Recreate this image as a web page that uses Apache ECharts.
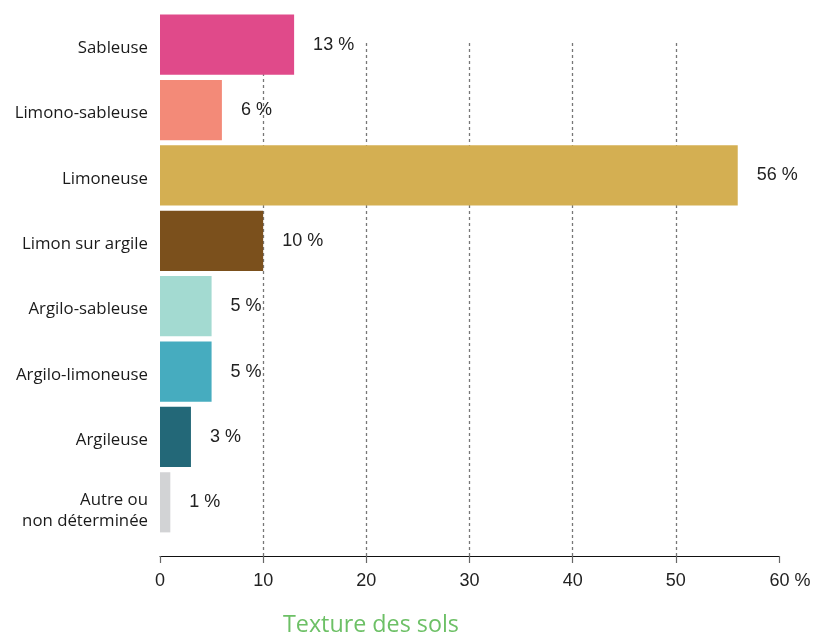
<!DOCTYPE html>
<html>
<head>
<meta charset="utf-8">
<script src="https://cdn.jsdelivr.net/npm/echarts@6/dist/echarts.min.js"></script>
<style>
  html, body { margin: 0; padding: 0; background: #ffffff; }
  #chart { width: 815px; height: 636px; }
</style>
</head>
<body>
<div id="chart"></div>
<script>
// Soil texture shares (%)
const categories = [
  'Sableuse',
  'Limono-sableuse',
  'Limoneuse',
  'Limon sur argile',
  'Argilo-sableuse',
  'Argilo-limoneuse',
  'Argileuse',
  'Autre ou\nnon déterminée'
];
const shares = [13, 6, 56, 10, 5, 5, 3, 1];
const barColors = ['#E04A8A', '#F38A78', '#D4AF52', '#7B501C', '#A3DAD1', '#46ACBF', '#236878', '#D2D3D5'];
const axisTicks = [0, 10, 20, 30, 40, 50, 60];
const axisTitle = 'Texture des sols';

const numFont = '"Liberation Sans", Arial, sans-serif';
const textFont = '"Open Sans", "Noto Sans", sans-serif';

const chart = echarts.init(document.getElementById('chart'), null, { renderer: 'canvas' });

const catText = { fontFamily: textFont, fontSize: 16.8, color: '#1a1a1a' };

// category names sit slightly below their bar's centre; the two-line one more so
function categoryLabel(name) {
  const lines = name.split('\n');
  if (lines.length === 1) return '{s|' + name + '}';
  return '{f|' + lines[0] + '}\n{t|' + lines.slice(1).join('}\n{t|') + '}';
}

chart.setOption({
  animation: false,
  backgroundColor: '#ffffff',
  grid: [
    { left: 160, right: 36, top: 12, height: 523 },   // bars
    { left: 160, right: 36, top: 43, bottom: 80 }     // scale + dashed guides
  ],
  xAxis: [
    { gridIndex: 0, type: 'value', min: axisTicks[0], max: axisTicks[axisTicks.length - 1], show: false },
    {
      gridIndex: 1, type: 'value',
      min: axisTicks[0], max: axisTicks[axisTicks.length - 1], interval: 10,
      axisLine: { show: true, lineStyle: { color: '#111', width: 1 } },
      axisTick: { show: true, length: 7, lineStyle: { color: '#666', width: 1.2 } },
      axisLabel: {
        margin: 16,
        fontFamily: numFont, fontSize: 18, color: '#222',
        formatter: v => v === 60 ? '{p|60 %}' : String(v),
        rich: { p: { padding: [0, 0, 0, 22], fontFamily: numFont, fontSize: 18, color: '#222' } }
      },
      splitLine: {
        show: true, showMinLine: false, showMaxLine: false,
        lineStyle: { color: '#777', type: [3, 3], width: 1.3 }
      }
    }
  ],
  yAxis: [
    {
      gridIndex: 0, type: 'category', data: categories, inverse: true,
      axisLine: { show: false }, axisTick: { show: false },
      axisLabel: {
        margin: 12, align: 'right',
        fontFamily: textFont, fontSize: 16.8, color: '#1a1a1a',
        formatter: categoryLabel,
        rich: {
          s: Object.assign({ lineHeight: 24, verticalAlign: 'bottom' }, catText),
          f: Object.assign({ lineHeight: 38, verticalAlign: 'bottom' }, catText),
          t: Object.assign({ lineHeight: 26 }, catText)
        }
      }
    },
    { gridIndex: 1, type: 'value', show: false }
  ],
  title: {
    text: axisTitle,
    left: 278, top: 609,
    textStyle: { fontFamily: textFont, fontSize: 23.3, fontWeight: 'normal', color: '#6DC066' }
  },
  series: [{
    type: 'bar',
    xAxisIndex: 0, yAxisIndex: 0,
    barCategoryGap: '8%',
    data: shares.map((v, i) => ({ value: v, itemStyle: { color: barColors[i] } })),
    label: {
      show: true, position: 'right', distance: 19,
      fontFamily: numFont, fontSize: 18, color: '#222',
      formatter: p => p.value + ' %'
    }
  }]
});
</script>
</body>
</html>
